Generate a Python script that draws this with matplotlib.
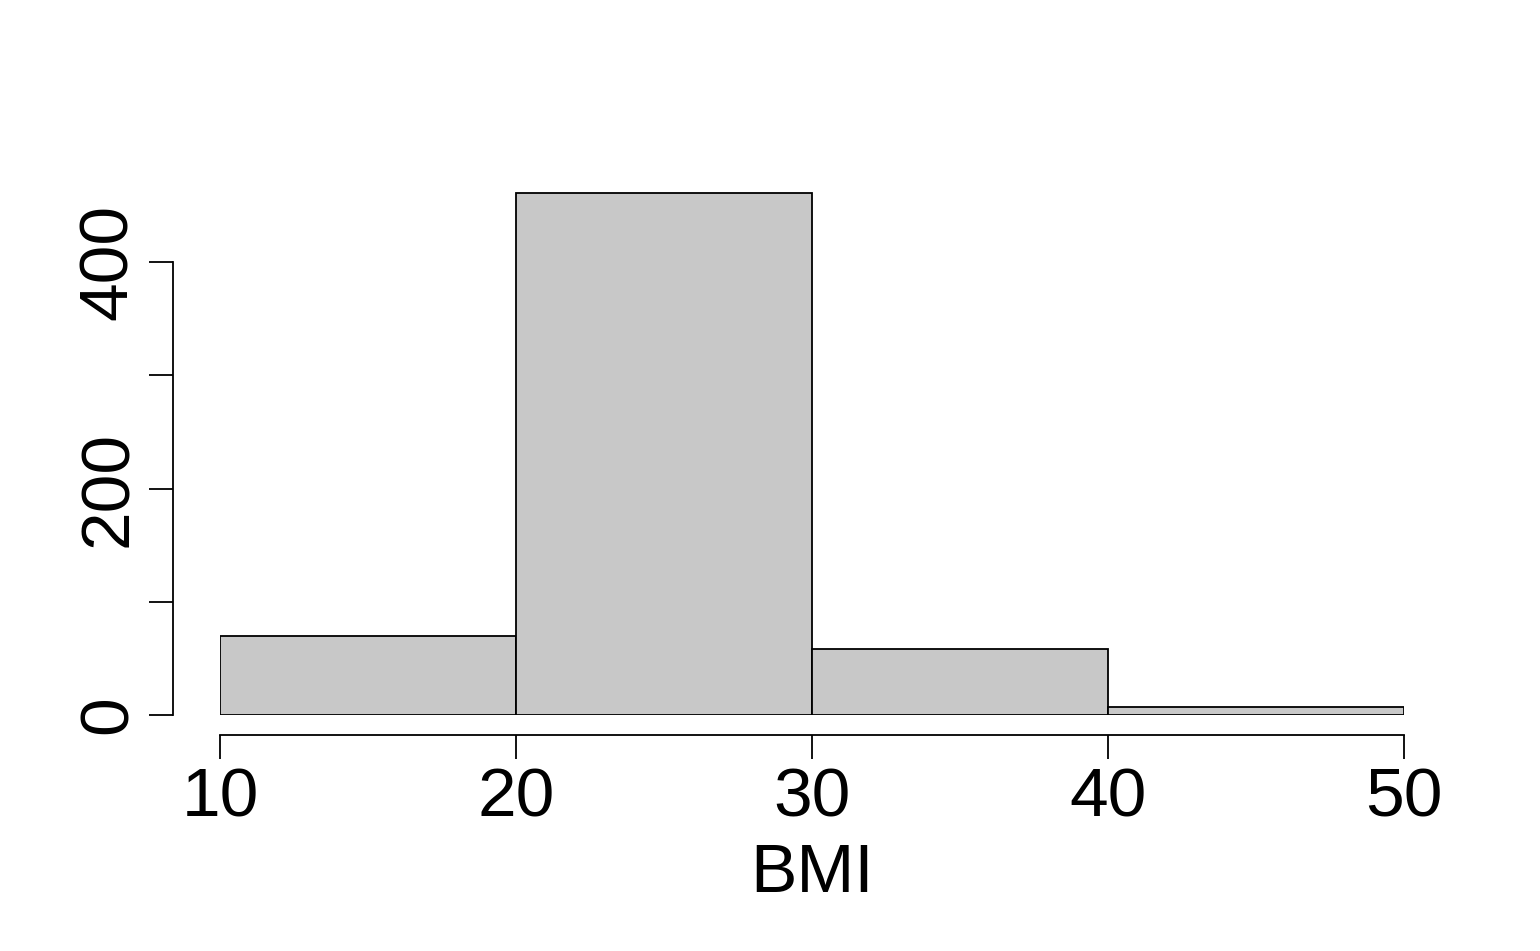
import matplotlib
matplotlib.use("Agg")
import matplotlib.pyplot as plt

plt.rcParams['font.family'] = ['Liberation Sans', 'DejaVu Sans']

bin_edges = [10, 20, 30, 40, 50]
counts = [70, 461, 58, 7]
y_ticks = [0, 100, 200, 300, 400]
y_labels = ['0', '', '200', '', '400']

fig = plt.figure(figsize=(15.4, 9.51), dpi=100)
ax = fig.add_axes([220/1540, (951-715)/951, 1184/1540, 566.25/951])

ax.bar(bin_edges[:-1], counts, width=10, align='edge',
       color='#c8c8c8', edgecolor='black', linewidth=1.3)

ax.set_xlim(10, 50)
ax.set_ylim(0, 500)
for s in ['top', 'right']:
    ax.spines[s].set_visible(False)
ax.spines['left'].set_position(('outward', 34))
ax.spines['bottom'].set_position(('outward', 14.4))
ax.spines['left'].set_bounds(0, 400)
ax.spines['bottom'].set_bounds(10, 50)
for s in ['left', 'bottom']:
    ax.spines[s].set_linewidth(1.3)

ax.set_xticks(bin_edges)
ax.set_yticks(y_ticks)
ax.set_yticklabels(y_labels, rotation=90, va='center')
ax.tick_params(axis='both', length=17, width=1.3, labelsize=50, pad=6)
ax.set_xlabel('BMI', fontsize=50, labelpad=8)

fig.savefig('out.png', dpi=100)
